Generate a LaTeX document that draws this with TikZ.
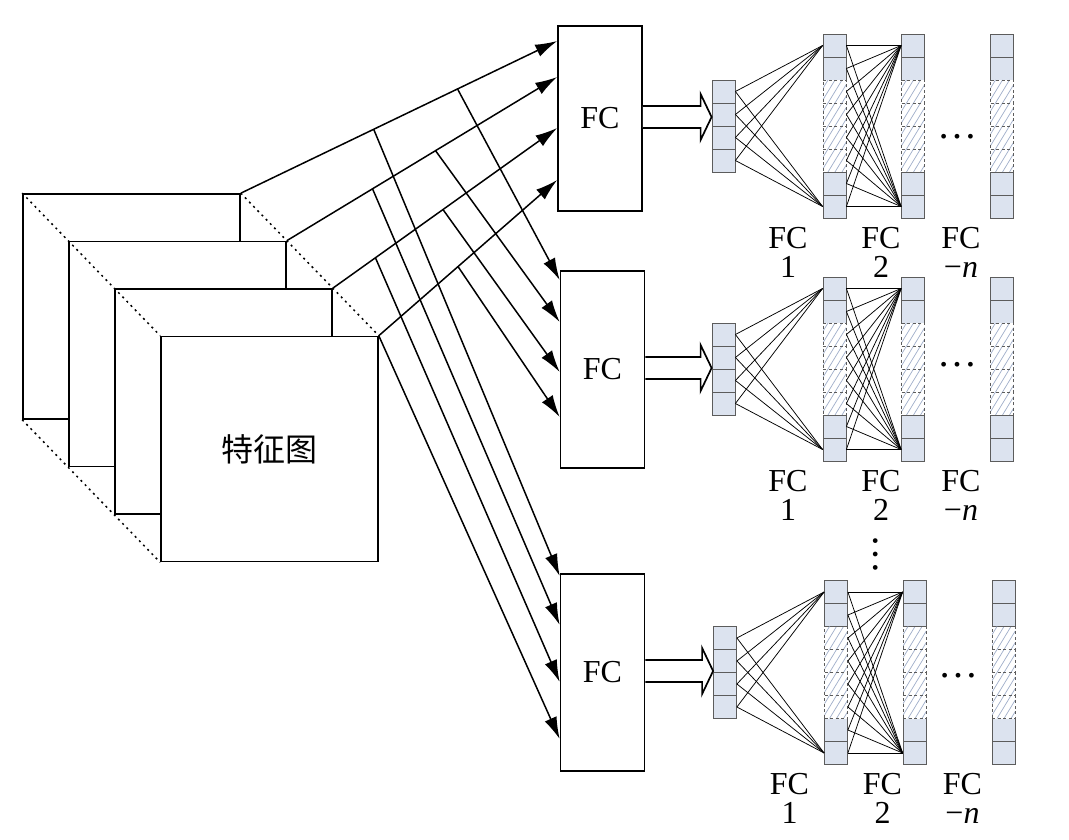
\documentclass[tikz,border=0pt]{standalone}
\usepackage{fontspec}
\setmainfont{Liberation Serif}
\newfontfamily\cjk{Noto Sans CJK SC}
\usetikzlibrary{calc,arrows.meta}
\definecolor{cellfill}{HTML}{DCE3EF}
\definecolor{celldraw}{HTML}{5C5C5C}
\definecolor{hatchcol}{HTML}{9FAECA}
\tikzset{
  fmap/.style={draw, line width=1.6pt, fill=white, minimum width=217pt, minimum height=225pt, inner sep=0pt},
  fcbox/.style={draw, line width=1.6pt, fill=white, minimum width=84pt, inner sep=0pt, font=\fontsize{32}{36}\selectfont},
  cell/.style={draw=celldraw, fill=cellfill, line width=0.8pt, minimum width=23pt, minimum height=23pt, inner sep=0pt},
  hcell/.style={draw=celldraw, dash pattern=on 3pt off 2.5pt, fill=white, line width=0.8pt, minimum width=23pt, minimum height=23pt, inner sep=0pt,
    path picture={\foreach \k in {-30,-23,...,30}{\draw[hatchcol, line width=0.7pt, solid] ($(path picture bounding box.south west)+(\k pt,0pt)$) -- ++(14pt,23pt);}}},
  net/.style={line width=0.75pt, black},
  conn/.style={line width=1.5pt, -{Latex[length=22pt,width=13pt]}},
  dotline/.style={line width=1.5pt, dash pattern=on 2pt off 4pt},
  hollow/.style={line width=1.7pt, fill=white, line join=miter},
  lab/.style={font=\fontsize{32}{36}\selectfont, inner sep=0pt, anchor=base},
  ell/.style={font=\fontsize{40}{40}\selectfont, inner sep=0pt}
}
\newcommand\netgrp[4]{%
  \foreach \i in {1,...,4} \node[cell] (#1i\i) at ({723.5+#2},{#3-46+\i*23-11.5}) {};
  \foreach \c/\cx in {a/834.5,b/913,c/1002} {%
    \foreach \j in {1,2,7,8} \node[cell] (#1\c\j) at ({\cx+#2},{#3-92+\j*23-11.5}) {};
    \foreach \j in {3,4,5,6} \node[hcell] (#1\c\j) at ({\cx+#2},{#3-92+\j*23-11.5}) {};
  }
  \foreach \i in {1,...,4} {\draw[net] (#1i\i.east) -- (#1a1.west); \draw[net] (#1i\i.east) -- (#1a8.west);}
  \foreach \j in {1,...,8} {\draw[net] (#1a\j.east) -- (#1b1.west); \draw[net] (#1a\j.east) -- (#1b8.west);}
  \node[lab] (#1fl1) at ({788+#2},{#3+122}) {FC};
  \node[lab] (#1nl1) at ({788+#2},{#3+151}) {1};
  \node[lab] (#1fl2) at ({881+#2},{#3+122}) {FC};
  \node[lab] (#1nl2) at ({881+#2},{#3+151}) {2};
  \node[lab] (#1fl3) at ({961+#2},{#3+122}) {FC};
  \node[lab] (#1nl3) at ({961+#2},{#3+151}) {−\textit{n}};
  \node[ell] (#1dots) at ({957+#2},{#4}) {…};
}
\newcommand\hollowarr[2]{%
  \coordinate (#1tip) at (#2.west |- #1.east);
  \draw[hollow] ($(#1.east)+(0,-12.5)$) -- ($(#1tip)+(-11,-12.5)$) -- ($(#1tip)+(-11,-24.5)$)
    -- ($(#1tip)+(0,-1.5)$) -- ($(#1tip)+(-11,21.5)$) -- ($(#1tip)+(-11,9.5)$) -- ($(#1.east)+(0,9.5)$);
}
\begin{document}
\begin{tikzpicture}[x=1pt,y=-1pt]
\useasboundingbox (0,0) rectangle (1069,840);
\fill[white] (0,0) rectangle (1069,840);
% feature maps
\node[fmap] (m1) at (131.5,306.5) {};
\node[fmap] (m2) at (177.5,354) {};
\node[fmap] (m3) at (223.5,401.5) {};
\node[fmap, font=\cjk\fontsize{32}{36}\selectfont] (m4) at (269.5,449) {特征图};
\draw[dotline] (m1.north west) -- (m4.north west);
\draw[dotline] (m1.north east) -- (m4.north east);
\draw[dotline] (m1.south west) -- (m4.south west);
% FC boxes
\node[fcbox, minimum height=185pt] (fcA) at (600,118.5) {FC};
\node[fcbox, minimum height=197pt] (fcB) at (602.5,369.5) {FC};
\node[fcbox, minimum height=197pt] (fcC) at (602.5,672.5) {FC};
% arrow targets
\coordinate (tA1) at (fcA.west |- 0,41);
\coordinate (tA2) at (fcA.west |- 0,77);
\coordinate (tA3) at (fcA.west |- 0,128);
\coordinate (tA4) at (fcA.west |- 0,180);
\coordinate (tB1) at (fcB.west |- 0,280);
\coordinate (tB2) at (fcB.west |- 0,322);
\coordinate (tB3) at (fcB.west |- 0,372);
\coordinate (tB4) at (fcB.west |- 0,417);
\coordinate (tC1) at (fcC.west |- 0,576);
\coordinate (tC2) at (fcC.west |- 0,625);
\coordinate (tC3) at (fcC.west |- 0,682);
\coordinate (tC4) at (fcC.west |- 0,739);
% connectors
\draw[conn] (m1.north east) -- (tA1) coordinate[pos=0.42] (p1a) coordinate[pos=0.685] (p1b);
\draw[conn] (m2.north east) -- (tA2) coordinate[pos=0.317] (p2a) coordinate[pos=0.55] (p2b);
\draw[conn] (m3.north east) -- (tA3) coordinate[pos=0.19] (p3a) coordinate[pos=0.491] (p3b);
\draw[conn] (m4.north east) -- (tA4) coordinate[pos=0.444] (p4b);
\draw[conn] (p1b) -- (tB1);
\draw[conn] (p2b) -- (tB2);
\draw[conn] (p3b) -- (tB3);
\draw[conn] (p4b) -- (tB4);
\draw[conn] (p1a) -- (tC1);
\draw[conn] (p2a) -- (tC2);
\draw[conn] (p3a) -- (tC3);
\draw[conn] (m4.north east) -- (tC4);
% networks
\netgrp{A}{0}{126}{137}
\netgrp{B}{0}{369}{365}
\netgrp{C}{1.5}{672.5}{676}
\hollowarr{fcA}{Ai1}
\hollowarr{fcB}{Bi1}
\hollowarr{fcC}{Ci1}
\node[ell, rotate=90] (vdots) at (876,554) {…};
\end{tikzpicture}
\end{document}
